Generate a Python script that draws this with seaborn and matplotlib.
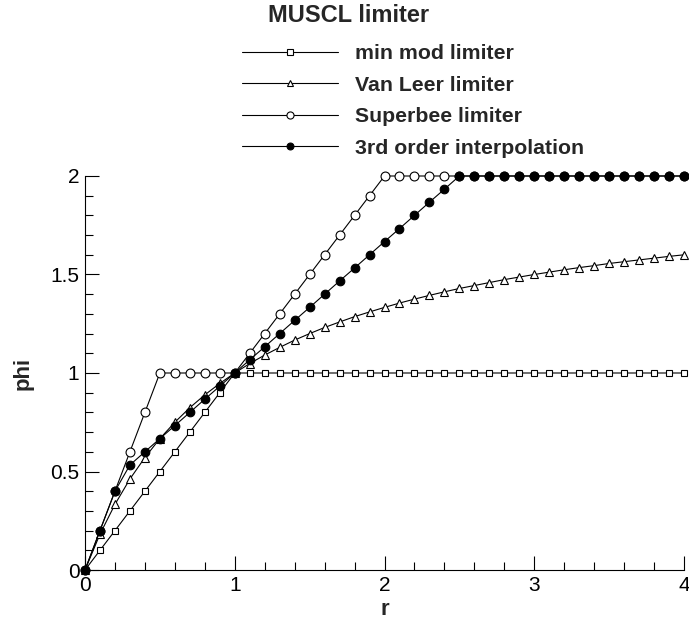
import matplotlib
matplotlib.use("Agg")
import matplotlib.pyplot as plt
import seaborn as sns

r = [0.0, 0.1, 0.2, 0.3, 0.4, 0.5, 0.6, 0.7, 0.8, 0.9, 1.0,
     1.1, 1.2, 1.3, 1.4, 1.5, 1.6, 1.7, 1.8, 1.9, 2.0,
     2.1, 2.2, 2.3, 2.4, 2.5, 2.6, 2.7, 2.8, 2.9, 3.0,
     3.1, 3.2, 3.3, 3.4, 3.5, 3.6, 3.7, 3.8, 3.9, 4.0]

minmod = [0.0, 0.1, 0.2, 0.3, 0.4, 0.5, 0.6, 0.7, 0.8, 0.9, 1.0,
          1.0, 1.0, 1.0, 1.0, 1.0, 1.0, 1.0, 1.0, 1.0, 1.0,
          1.0, 1.0, 1.0, 1.0, 1.0, 1.0, 1.0, 1.0, 1.0, 1.0,
          1.0, 1.0, 1.0, 1.0, 1.0, 1.0, 1.0, 1.0, 1.0, 1.0]

vanleer = [0.0, 0.182, 0.333, 0.462, 0.571, 0.667, 0.75, 0.824, 0.889, 0.947, 1.0,
           1.048, 1.091, 1.130, 1.167, 1.2, 1.231, 1.259, 1.286, 1.310, 1.333,
           1.355, 1.375, 1.394, 1.412, 1.429, 1.444, 1.459, 1.474, 1.487, 1.5,
           1.512, 1.524, 1.535, 1.545, 1.556, 1.565, 1.574, 1.583, 1.592, 1.6]

superbee = [0.0, 0.2, 0.4, 0.6, 0.8, 1.0, 1.0, 1.0, 1.0, 1.0, 1.0,
            1.1, 1.2, 1.3, 1.4, 1.5, 1.6, 1.7, 1.8, 1.9, 2.0,
            2.0, 2.0, 2.0, 2.0, 2.0, 2.0, 2.0, 2.0, 2.0, 2.0,
            2.0, 2.0, 2.0, 2.0, 2.0, 2.0, 2.0, 2.0, 2.0, 2.0]

third = [0.0, 0.2, 0.4, 0.533, 0.6, 0.667, 0.733, 0.8, 0.867, 0.933, 1.0,
         1.067, 1.133, 1.2, 1.267, 1.333, 1.4, 1.467, 1.533, 1.6, 1.667,
         1.733, 1.8, 1.867, 1.933, 2.0, 2.0, 2.0, 2.0, 2.0, 2.0,
         2.0, 2.0, 2.0, 2.0, 2.0, 2.0, 2.0, 2.0, 2.0, 2.0]

labels = ["min mod limiter", "Van Leer limiter", "Superbee limiter", "3rd order interpolation"]
series = [minmod, vanleer, superbee, third]
markers = ["s", "^", "o", "o"]
msizes = [4.6, 5.4, 6.4, 6.2]
mfaces = ["white", "white", "white", "black"]

sns.set_style("ticks")
plt.rcParams["font.family"] = ["Liberation Sans", "DejaVu Sans"]

fig = plt.figure(figsize=(6.89, 6.21), dpi=100)
ax = fig.add_axes([85/689, 1-570/621, 599/689, (570-176)/621])

for vals, lab, m, ms, fc in zip(series, labels, markers, msizes, mfaces):
    sns.lineplot(x=r, y=vals, ax=ax, color="black", linewidth=0.8,
                 marker=m, markersize=ms, markerfacecolor=fc,
                 markeredgecolor="black", markeredgewidth=0.8,
                 label=lab, clip_on=False, sort=False)

ax.set_xlim(0, 4)
ax.set_ylim(0, 2)
ax.set_xticks([0, 1, 2, 3, 4])
ax.set_xticks([i * 0.2 for i in range(21)], minor=True)
ax.set_yticks([0, 0.5, 1, 1.5, 2])
ax.set_yticklabels(["0", "0.5", "1", "1.5", "2"])
ax.set_xticklabels(["0", "1", "2", "3", "4"])
ax.set_yticks([i * 0.1 for i in range(21)], minor=True)
ax.tick_params(which="major", direction="in", length=10, width=0.8, labelsize=15, colors="black", pad=4)
ax.tick_params(which="minor", direction="in", length=5.8, width=0.8, colors="black")
for s in ["top", "right"]:
    ax.spines[s].set_visible(False)
for s in ["left", "bottom"]:
    ax.spines[s].set_linewidth(0.8)
    ax.spines[s].set_color("black")

ax.set_xlabel("r", fontsize=16, fontweight="bold", labelpad=3)
ax.set_ylabel("phi", fontsize=16, fontweight="bold", labelpad=12)

leg = ax.get_legend()
if leg is not None:
    leg.remove()
handles, labs = ax.get_legend_handles_labels()
fig.legend(handles, labs, loc="upper left", bbox_to_anchor=(242/689, 1-44/621),
           frameon=False, prop={"size": 15.3, "weight": "bold"},
           handlelength=4.5, handletextpad=0.8, labelspacing=0.59,
           borderpad=0, borderaxespad=0, markerscale=0.8)
fig.text(268/689, 1-15/621, "MUSCL limiter", fontsize=17, fontweight="bold", va="center", ha="left")

fig.savefig("out.png", dpi=100)
